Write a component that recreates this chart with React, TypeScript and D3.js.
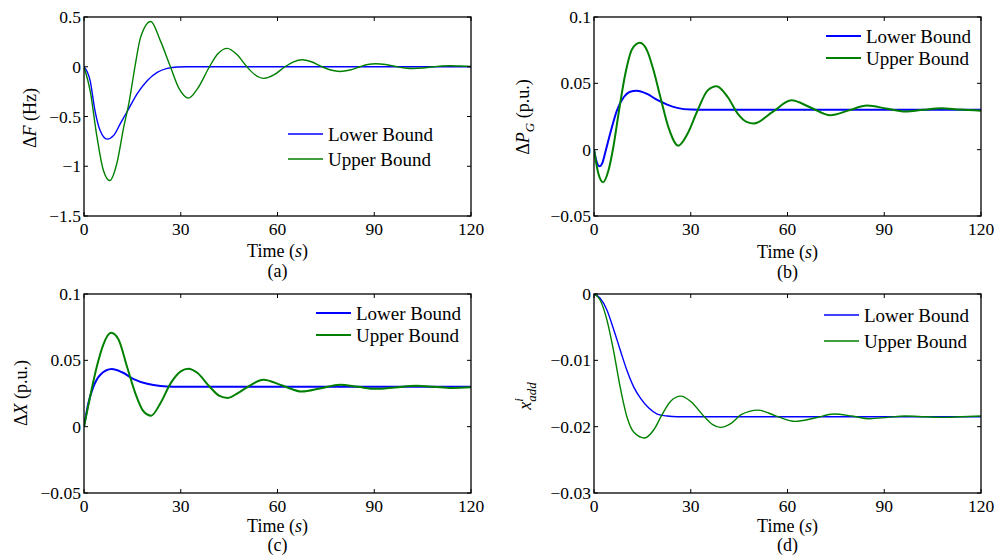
import * as d3 from "d3";

const BLUE = "#0000ff";
const GREEN = "#008000";
const FONT = "Liberation Serif, Times New Roman, serif";

// time axis shared by all four panels
const timeTicks = [0, 30, 60, 90, 120];

// (a) frequency deviation ΔF (Hz)
const dfTicks = [-1.5, -1, -0.5, 0, 0.5];
const dfLower: [number, number][] = [
  [0, 0], [1.9, -0.14], [3.4, -0.44], [5, -0.64], [7.2, -0.727], [9.2, -0.69],
  [11.3, -0.57], [13.9, -0.42], [16.5, -0.27], [19.6, -0.14], [22.7, -0.057],
  [25.8, -0.017], [29, -0.002], [32, 0], [120, 0],
];
const dfUpper: [number, number][] = [
  [0, 0], [1.9, -0.24], [4, -0.7], [6, -1.04], [8, -1.143], [10.2, -0.97],
  [12.3, -0.61], [13.9, -0.37], [15.8, 0], [17.5, 0.29], [20.7, 0.455],
  [23.7, 0.26], [26.8, 0], [29.5, -0.22], [32.4, -0.315], [35.2, -0.22],
  [38.9, 0], [41.5, 0.13], [44.4, 0.185], [47.5, 0.12], [50.5, 0],
  [53, -0.08], [55.8, -0.117], [59, -0.08], [62.3, 0], [65, 0.05],
  [67.6, 0.07], [70.5, 0.05], [73.8, 0], [76.5, -0.033], [79.4, -0.047],
  [82.5, -0.033], [85.6, 0], [88, 0.022], [90.5, 0.03], [93.5, 0.022],
  [97, 0], [99.5, -0.012], [102, -0.017], [105, -0.012], [108.5, 0],
  [111, 0.007], [113.5, 0.01], [116.5, 0.007], [120, 0.003],
];

// (b) generator power ΔP_G (p.u.)
const pgTicks = [-0.05, 0, 0.05, 0.1];
const pgLower: [number, number][] = [
  [0, 0], [0.8, -0.009], [1.7, -0.0125], [2.6, -0.01], [3.4, -0.003],
  [5, 0.012], [7.1, 0.0295], [9.2, 0.0395], [11, 0.0435], [13.3, 0.0445],
  [16.5, 0.042], [19.6, 0.0375], [22.7, 0.034], [25.8, 0.0315],
  [30, 0.0302], [35, 0.03], [120, 0.03],
];
const pgUpper: [number, number][] = [
  [0, 0], [1.35, -0.018], [2.8, -0.0245], [4.5, -0.0155], [6, 0.002],
  [7.6, 0.027], [9.7, 0.057], [11.8, 0.0757], [14.2, 0.0805], [16.5, 0.0745],
  [18.5, 0.0595], [20.6, 0.0395], [23.2, 0.016], [26.1, 0.003], [29, 0.012],
  [32.1, 0.0295], [35.2, 0.0445], [38, 0.0478], [41.5, 0.0395],
  [44.6, 0.027], [47.3, 0.021], [49.6, 0.0198], [55.4, 0.0285],
  [61.2, 0.0372], [67.3, 0.0316], [73.3, 0.026], [79, 0.0296],
  [84.7, 0.0332], [90.6, 0.031], [96.5, 0.0287], [102, 0.03],
  [107.7, 0.0313], [113.5, 0.0302], [120, 0.0294],
];

// (c) governor valve ΔX (p.u.)
const dxTicks = [-0.05, 0, 0.05, 0.1];
const dxLower: [number, number][] = [
  [0, 0], [1.35, 0.0177], [2.9, 0.03], [5, 0.039], [8.6, 0.0434],
  [11.8, 0.041], [15.4, 0.0359], [19.6, 0.0323], [23.7, 0.0306],
  [27.9, 0.0301], [35, 0.03], [120, 0.03],
];
const dxUpper: [number, number][] = [
  [0, 0], [1.9, 0.0227], [4, 0.0455], [6, 0.0619], [8.4, 0.0707],
  [10.7, 0.0657], [13.3, 0.0455], [15.9, 0.0253], [18.5, 0.0114],
  [20.8, 0.0083], [23.7, 0.0177], [26.9, 0.0328], [30, 0.0417],
  [32.4, 0.0437], [35.2, 0.0404], [38.9, 0.0303], [42, 0.0232],
  [44.6, 0.0217], [47.7, 0.0253], [50.8, 0.03], [55.6, 0.0354],
  [61.5, 0.031], [67.5, 0.0265], [73.5, 0.029], [79.4, 0.0316],
  [85, 0.03], [90.5, 0.0285], [96.5, 0.0296], [103, 0.0308],
  [108.5, 0.0301], [114, 0.0292], [120, 0.0297],
];

// (d) additional state x^i_add
const xaTicks = [-0.03, -0.02, -0.01, 0];
const xaLower: [number, number][] = [
  [0, 0], [1.9, -0.00065], [4, -0.0024], [6, -0.0052], [8.1, -0.0084],
  [10.2, -0.0115], [12.3, -0.014], [14.4, -0.0157], [17, -0.0172],
  [19.6, -0.0181], [22.7, -0.0184], [25.8, -0.0185], [120, -0.0185],
];
const xaUpper: [number, number][] = [
  [0, 0], [1.9, -0.0009], [4, -0.0039], [6, -0.0084], [8.1, -0.014],
  [10.2, -0.0185], [12.3, -0.0208], [15.7, -0.0217], [18.5, -0.0205],
  [21.1, -0.0182], [23.7, -0.0162], [26.9, -0.0154], [30, -0.0162],
  [34.2, -0.0185], [36.8, -0.0197], [39.2, -0.0201], [42.5, -0.0195],
  [45.6, -0.0182], [50.8, -0.0175], [56.5, -0.0184], [62.4, -0.0192],
  [68.5, -0.0187], [74.4, -0.0181], [80, -0.0184], [85.5, -0.0188],
  [91, -0.0186], [96.5, -0.0184], [102.5, -0.0185], [108.5, -0.0186],
  [114, -0.0185], [120, -0.0184],
];

const seriesNames = ["Lower Bound", "Upper Bound"];

const fmt = d3.format("");
const TICK = 4;

function Panel({ box, yDomain, yTicks, lower, upper, lw, legend, yLabel, tag, titleY, tagY }) {
  const x = d3.scaleLinear().domain([0, 120]).range([box.x0, box.x1]);
  const y = d3.scaleLinear().domain(yDomain).range([box.y1, box.y0]);
  const line = d3.line<[number, number]>()
    .x((d) => x(d[0]))
    .y((d) => y(d[1]))
    .curve(d3.curveMonotoneX);
  const cx = (box.x0 + box.x1) / 2;

  return (
    <g>
      <clipPath id={`clip-${tag}`}>
        <rect x={box.x0} y={box.y0} width={box.x1 - box.x0} height={box.y1 - box.y0} />
      </clipPath>

      <g clipPath={`url(#clip-${tag})`} fill="none" strokeLinejoin="round">
        <path d={line(lower) || ""} stroke={BLUE} strokeWidth={lw} />
        <path d={line(upper) || ""} stroke={GREEN} strokeWidth={lw} />
      </g>

      {/* inward ticks on all four sides, matlab style */}
      {timeTicks.map((t) => (
        <g key={`x-${t}`}>
          <line x1={x(t)} x2={x(t)} y1={box.y1} y2={box.y1 - TICK} stroke="#000" />
          <line x1={x(t)} x2={x(t)} y1={box.y0} y2={box.y0 + TICK} stroke="#000" />
          <text x={x(t)} y={box.y1 + 19} textAnchor="middle" fontSize={17.5} fontFamily={FONT}>{t}</text>
        </g>
      ))}
      {yTicks.map((v) => (
        <g key={`y-${v}`}>
          <line x1={box.x0} x2={box.x0 + TICK} y1={y(v)} y2={y(v)} stroke="#000" />
          <line x1={box.x1} x2={box.x1 - TICK} y1={y(v)} y2={y(v)} stroke="#000" />
          <text x={box.x0 - 3} y={y(v)} dy="0.35em" textAnchor="end" fontSize={17.5} fontFamily={FONT}>{fmt(v)}</text>
        </g>
      ))}

      <rect x={box.x0} y={box.y0} width={box.x1 - box.x0} height={box.y1 - box.y0}
        fill="none" stroke="#000" strokeWidth={1.3} />

      {/* legend */}
      {seriesNames.map((name, i) => {
        const ly = legend.y + i * legend.gap;
        return (
          <g key={name}>
            <line x1={legend.x} x2={legend.x + 35} y1={ly} y2={ly}
              stroke={i === 0 ? BLUE : GREEN} strokeWidth={lw} />
            <text x={legend.x + 40} y={ly} dy="0.35em" fontSize={19} fontFamily={FONT}>{name}</text>
          </g>
        );
      })}

      {/* y label */}
      <text transform={`translate(${yLabel.x},${yLabel.y}) rotate(-90)`}
        textAnchor="middle" fontSize={18} fontFamily={FONT}>
        {yLabel.content}
      </text>

      <text x={cx} y={titleY} textAnchor="middle" fontSize={18} fontFamily={FONT}>
        Time (<tspan fontStyle="italic">s</tspan>)
      </text>
      <text x={cx} y={tagY} textAnchor="middle" fontSize={18} fontFamily={FONT}>({tag})</text>
    </g>
  );
}

export default function App() {
  return (
    <svg width={998} height={556}
      style={{ position: "absolute", left: 0, top: 0, background: "#fff", fontFamily: FONT }}>
      <Panel
        box={{ x0: 84, x1: 471, y0: 17, y1: 216 }}
        yDomain={[-1.5, 0.5]} yTicks={dfTicks}
        lower={dfLower} upper={dfUpper} lw={1.4}
        legend={{ x: 288, y: 134, gap: 25 }}
        yLabel={{
          x: 36, y: 118,
          content: <>Δ<tspan fontStyle="italic">F</tspan> (Hz)</>,
        }}
        tag="a" titleY={257} tagY={277}
      />
      <Panel
        box={{ x0: 594, x1: 981, y0: 17, y1: 216 }}
        yDomain={[-0.05, 0.1]} yTicks={pgTicks}
        lower={pgLower} upper={pgUpper} lw={2}
        legend={{ x: 826, y: 36, gap: 22 }}
        yLabel={{
          x: 529, y: 117,
          content: <>Δ<tspan fontStyle="italic">P</tspan><tspan fontStyle="italic" fontSize={13} dy={5}>G</tspan><tspan dy={-5}> (p.u.)</tspan></>,
        }}
        tag="b" titleY={258} tagY={278}
      />
      <Panel
        box={{ x0: 84, x1: 471, y0: 294, y1: 493 }}
        yDomain={[-0.05, 0.1]} yTicks={dxTicks}
        lower={dxLower} upper={dxUpper} lw={2}
        legend={{ x: 316, y: 313, gap: 22 }}
        yLabel={{
          x: 27, y: 393,
          content: <>Δ<tspan fontStyle="italic">X</tspan> (p.u.)</>,
        }}
        tag="c" titleY={532} tagY={551}
      />
      <Panel
        box={{ x0: 594, x1: 981, y0: 294, y1: 493 }}
        yDomain={[-0.03, 0]} yTicks={xaTicks}
        lower={xaLower} upper={xaUpper} lw={1.4}
        legend={{ x: 824, y: 315, gap: 26 }}
        yLabel={{
          x: 531, y: 396,
          content: <><tspan fontStyle="italic">x</tspan><tspan fontStyle="italic" fontSize={13} dy={-8}>i</tspan><tspan fontStyle="italic" fontSize={13} dx={-3.6} dy={13}>add</tspan></>,
        }}
        tag="d" titleY={532} tagY={551}
      />
    </svg>
  );
}
